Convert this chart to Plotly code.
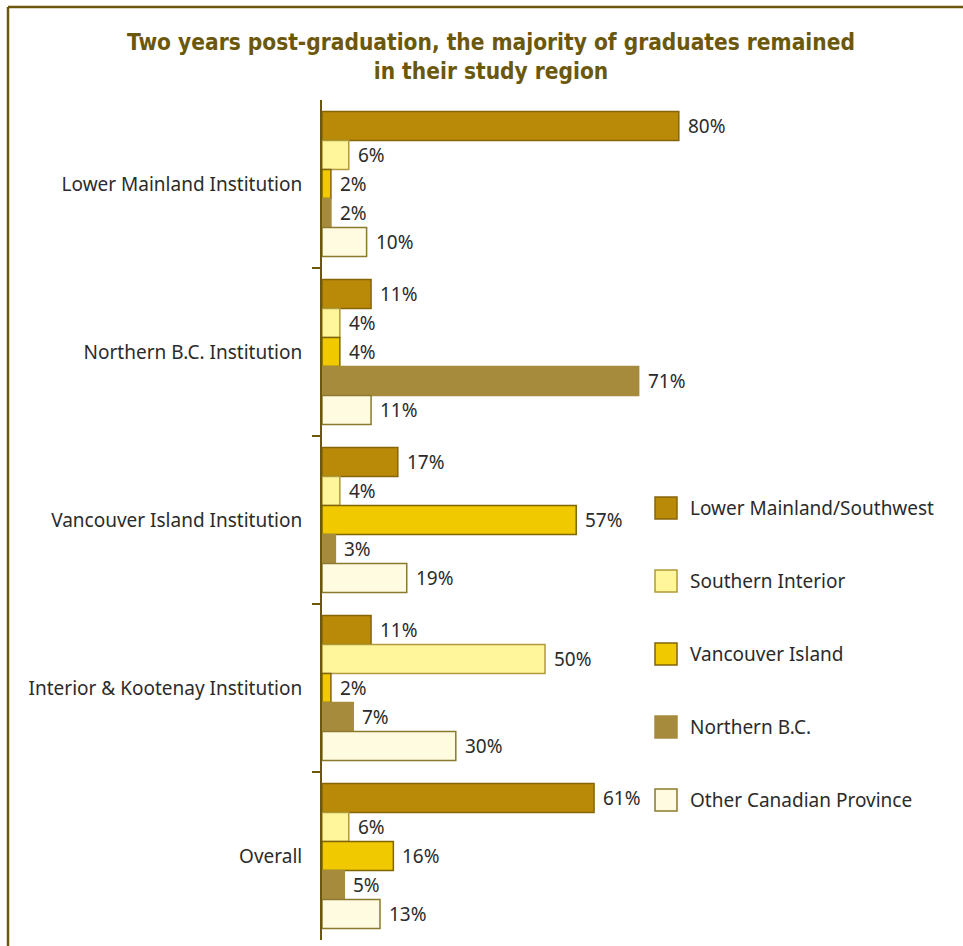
import plotly.graph_objects as go

# --- data -------------------------------------------------------------
institutions = [
    "Lower Mainland Institution",
    "Northern B.C. Institution",
    "Vancouver Island Institution",
    "Interior & Kootenay Institution",
    "Overall",
]
regions = [
    "Lower Mainland/Southwest",
    "Southern Interior",
    "Vancouver Island",
    "Northern B.C.",
    "Other Canadian Province",
]
lower_mainland = [80, 11, 17, 11, 61]
southern_interior = [6, 4, 4, 50, 6]
vancouver_island = [2, 4, 57, 2, 16]
northern_bc = [2, 71, 3, 7, 5]
other_province = [10, 11, 19, 30, 13]
series = [lower_mainland, southern_interior, vancouver_island, northern_bc, other_province]

fills = ["#B98A08", "#FFF59B", "#F1C900", "#A68B3D", "#FFFBE0"]
edges = ["#86650A", "#B09A3A", "#806508", "#A68B3D", "#8B7A2E"]

# --- layout constants -------------------------------------------------
W, H = 963, 946
ML, MR, MT, MB = 322, 20, 100, 6
PX_PER_PCT = 4.46
BARGAP = 0.137
OLIVE = "#6B580C"
TEXT = "#2B2B2B"
FONT = "Noto Sans, Open Sans, sans-serif"
FS = 19

plot_w = W - ML - MR
plot_h = H - MT - MB
x_max = plot_w / PX_PER_PCT
ypos = list(range(len(institutions)))

fig = go.Figure()
for name, vals, fc, ec in zip(regions, series, fills, edges):
    fig.add_trace(go.Bar(
        y=ypos, x=vals, name=name, orientation="h",
        marker=dict(color=fc, line=dict(color=ec, width=1.5)),
        showlegend=False, hoverinfo="x+name",
    ))

# value labels next to each bar end
step = (1 - BARGAP) / len(regions)
annotations = []
for j, vals in enumerate(series):
    for i, v in enumerate(vals):
        annotations.append(dict(
            x=v, y=i + (j - (len(regions) - 1) / 2) * step,
            xref="x", yref="y", text=f"{v}%", showarrow=False,
            xanchor="left", yanchor="middle", xshift=7,
            font=dict(family=FONT, size=FS, color=TEXT),
        ))

# legend drawn as swatches with labels
def px_x(px):
    return (px - ML) / plot_w

def px_y(py):
    return 1 - (py - MT) / plot_h

shapes = []
legend_y0, legend_dy, sw = 508, 73, 22
for k, (name, fc, ec) in enumerate(zip(regions, fills, edges)):
    cy = legend_y0 + k * legend_dy
    shapes.append(dict(
        type="rect", xref="paper", yref="paper",
        x0=px_x(655), x1=px_x(655 + sw), y0=px_y(cy + sw / 2), y1=px_y(cy - sw / 2),
        fillcolor=fc, line=dict(color=ec, width=1.5),
    ))
    annotations.append(dict(
        x=px_x(688), y=px_y(cy), xref="paper", yref="paper",
        text=name, showarrow=False, xanchor="left", yanchor="middle",
        font=dict(family=FONT, size=FS, color=TEXT),
    ))

# outer frame (top and left edges)
shapes.append(dict(type="line", xref="paper", yref="paper",
                   x0=px_x(8), x1=px_x(W + 5), y0=px_y(7), y1=px_y(7),
                   line=dict(color=OLIVE, width=2.5)))
shapes.append(dict(type="line", xref="paper", yref="paper",
                   x0=px_x(8), x1=px_x(8), y0=px_y(7), y1=px_y(H + 5),
                   line=dict(color=OLIVE, width=2.5)))

fig.update_layout(
    width=W, height=H,
    margin=dict(l=ML, r=MR, t=MT, b=MB, pad=0),
    paper_bgcolor="white", plot_bgcolor="white",
    barmode="group", bargap=BARGAP, bargroupgap=0,
    title=dict(
        text="Two years post-graduation, the majority of graduates remained<br>in their study region",
        x=491 / W, xanchor="center",
        y=1 - 50 / H, yanchor="middle",
        font=dict(family="DejaVu Sans Condensed, Liberation Sans Narrow, sans-serif",
                  size=22.5, color=OLIVE, weight="bold"),
    ),
    xaxis=dict(range=[0, x_max], visible=False, fixedrange=True),
    yaxis=dict(
        range=[len(institutions) - 0.5, -0.5],
        tickvals=ypos, ticktext=institutions, ticks="",
        showline=True, linecolor=OLIVE, linewidth=2,
        showgrid=False, zeroline=False,
        tickfont=dict(family=FONT, size=FS, color=TEXT),
        ticklabelstandoff=14,
        minor=dict(tickvals=[i + 0.5 for i in ypos[:-1]], ticks="outside",
                   ticklen=8, tickwidth=2, tickcolor=OLIVE, showgrid=False),
    ),
    shapes=shapes,
    annotations=annotations,
)

fig.write_html("out.html")
